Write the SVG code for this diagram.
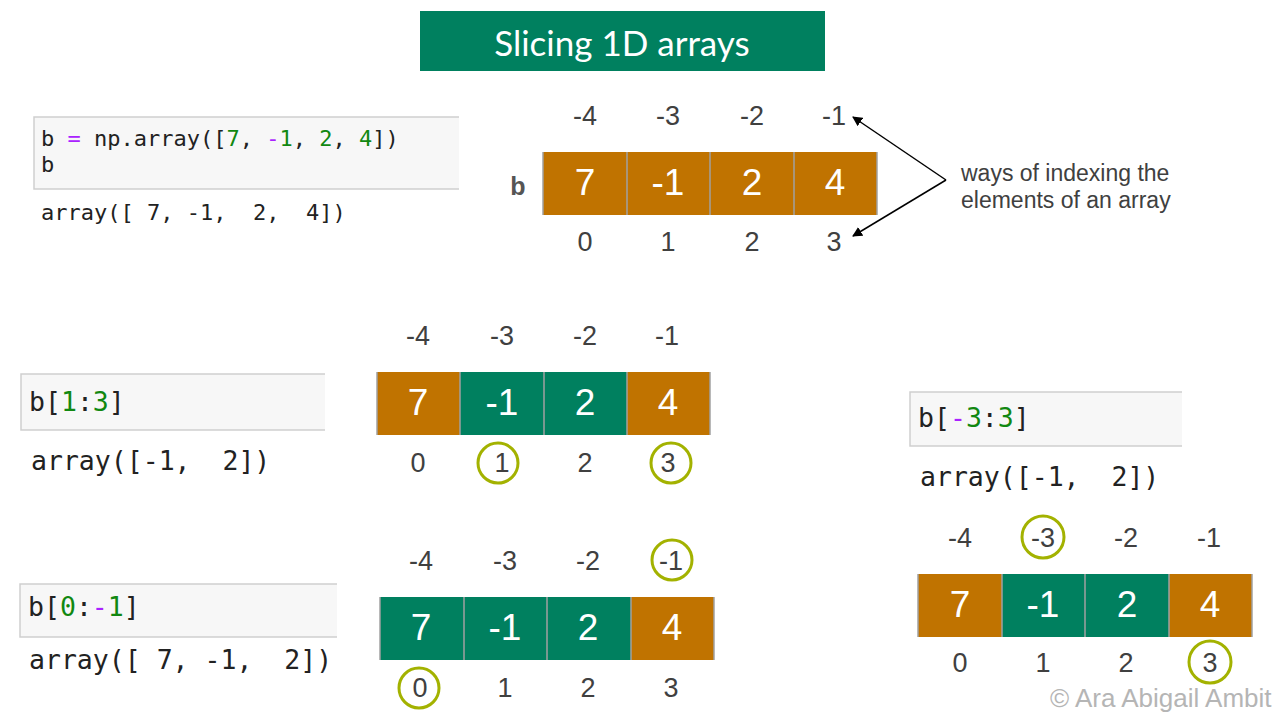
<svg xmlns="http://www.w3.org/2000/svg" width="1279" height="713" viewBox="0 0 1279 713">
<defs>
<marker id="ah" viewBox="0 0 10 10" refX="9" refY="5" markerWidth="10" markerHeight="10" markerUnits="userSpaceOnUse" orient="auto">
<path d="M0,0 L10,5 L0,10 z" fill="#000"/>
</marker>
</defs>
<style>
.bg{fill:#ffffff}
.or{fill:#c07300}
.gr{fill:#00805f}
.div{stroke:#a0a0a0;stroke-width:1.5}
.val{font-family:"Liberation Sans",Arial,sans-serif;font-size:37px;fill:#ffffff;text-anchor:middle}
.idx{font-family:"Liberation Sans",Arial,sans-serif;font-size:27px;fill:#404040;text-anchor:middle}
.ring{fill:none;stroke:#a3b200;stroke-width:3}
.cellbox{fill:#f7f7f7;stroke:none}
.cellbrd{fill:none;stroke:#cfcfcf;stroke-width:1.5}
.code{font-family:"DejaVu Sans Mono","Liberation Mono",monospace;fill:#222}
.num{fill:#118811}
.op{fill:#aa22ff}
.note{font-family:"Liberation Sans",Arial,sans-serif;font-size:23px;fill:#404040}
</style>
<rect class="bg" x="0" y="0" width="1279" height="713"/>

<g id="title">
<rect x="420" y="11" width="405" height="60" fill="#00805f"/>
<text x="622" y="56" font-family="Lato,'Open Sans','Liberation Sans',sans-serif" font-size="35" fill="#ffffff" text-anchor="middle">Slicing 1D arrays</text>
</g>

<g id="code-top">
<rect class="cellbox" x="34" y="117" width="425" height="72"/>
<path class="cellbrd" d="M459,117 H34 V189 H459"/>
<text class="code" x="41" y="146" font-size="22">b <tspan class="op">=</tspan> np.array([<tspan class="num">7</tspan>, <tspan class="op">-</tspan><tspan class="num">1</tspan>, <tspan class="num">2</tspan>, <tspan class="num">4</tspan>])</text>
<text class="code" x="41" y="172" font-size="22">b</text>
<text class="code" x="41" y="220" font-size="22" xml:space="preserve">array([ 7, -1,  2,  4])</text>
</g>

<g id="array-top">
<text x="518" y="195" font-family="'Liberation Sans',Arial,sans-serif" font-size="25" font-weight="bold" fill="#555" text-anchor="middle">b</text>
<rect class="or" x="543" y="152" width="334" height="63"/>
<line class="div" x1="543" y1="152" x2="543" y2="215"/>
<line class="div" x1="627" y1="152" x2="627" y2="215"/>
<line class="div" x1="710" y1="152" x2="710" y2="215"/>
<line class="div" x1="794" y1="152" x2="794" y2="215"/>
<line class="div" x1="877" y1="152" x2="877" y2="215"/>
<text class="val" x="585" y="195">7</text>
<text class="val" x="668" y="195">-1</text>
<text class="val" x="752" y="195">2</text>
<text class="val" x="835" y="195">4</text>
<text class="idx" x="585" y="125">-4</text>
<text class="idx" x="668" y="125">-3</text>
<text class="idx" x="752" y="125">-2</text>
<text class="idx" x="834" y="125">-1</text>
<text class="idx" x="585" y="251">0</text>
<text class="idx" x="668" y="251">1</text>
<text class="idx" x="752" y="251">2</text>
<text class="idx" x="834" y="251">3</text>
</g>

<g id="note">
<text class="note" x="961" y="181">ways of indexing the</text>
<text class="note" x="961" y="208">elements of an array</text>
</g>

<g id="connectors">
<line x1="946" y1="180" x2="853" y2="117" stroke="#000" stroke-width="1.5" marker-end="url(#ah)"/>
<line x1="946" y1="180" x2="853" y2="236" stroke="#000" stroke-width="1.5" marker-end="url(#ah)"/>
</g>

<g id="code-mid">
<rect class="cellbox" x="21" y="374" width="304" height="56"/>
<path class="cellbrd" d="M325,374 H21 V430 H325"/>
<text class="code" x="29" y="411" font-size="26.5">b[<tspan class="num">1</tspan>:<tspan class="num">3</tspan>]</text>
<text class="code" x="31" y="470" font-size="26.5" xml:space="preserve">array([-1,  2])</text>
</g>

<g id="array-mid">
<rect class="or" x="377" y="372" width="83" height="63"/>
<rect class="gr" x="460" y="372" width="84" height="63"/>
<rect class="gr" x="544" y="372" width="83" height="63"/>
<rect class="or" x="627" y="372" width="83" height="63"/>
<line class="div" x1="377" y1="372" x2="377" y2="435"/>
<line class="div" x1="460" y1="372" x2="460" y2="435"/>
<line class="div" x1="544" y1="372" x2="544" y2="435"/>
<line class="div" x1="627" y1="372" x2="627" y2="435"/>
<line class="div" x1="710" y1="372" x2="710" y2="435"/>
<text class="val" x="418" y="415">7</text>
<text class="val" x="502" y="415">-1</text>
<text class="val" x="585" y="415">2</text>
<text class="val" x="668" y="415">4</text>
<text class="idx" x="418" y="345">-4</text>
<text class="idx" x="502" y="345">-3</text>
<text class="idx" x="585" y="345">-2</text>
<text class="idx" x="667" y="345">-1</text>
<text class="idx" x="418" y="472">0</text>
<text class="idx" x="502" y="472">1</text>
<text class="idx" x="585" y="472">2</text>
<text class="idx" x="668" y="472">3</text>
<circle class="ring" cx="498" cy="463" r="20"/>
<circle class="ring" cx="671" cy="463" r="20"/>
</g>

<g id="code-bot">
<rect class="cellbox" x="20" y="584" width="317" height="53"/>
<path class="cellbrd" d="M337,584 H20 V637 H337"/>
<text class="code" x="28" y="616" font-size="26.5">b[<tspan class="num">0</tspan>:<tspan class="op">-</tspan><tspan class="num">1</tspan>]</text>
<text class="code" x="29" y="669" font-size="26.5" xml:space="preserve">array([ 7, -1,  2])</text>
</g>

<g id="array-bot">
<rect class="gr" x="380" y="597" width="251" height="63"/>
<rect class="or" x="631" y="597" width="83" height="63"/>
<line class="div" x1="380" y1="597" x2="380" y2="660"/>
<line class="div" x1="464" y1="597" x2="464" y2="660"/>
<line class="div" x1="547" y1="597" x2="547" y2="660"/>
<line class="div" x1="631" y1="597" x2="631" y2="660"/>
<line class="div" x1="714" y1="597" x2="714" y2="660"/>
<text class="val" x="421" y="640">7</text>
<text class="val" x="505" y="640">-1</text>
<text class="val" x="588" y="640">2</text>
<text class="val" x="672" y="640">4</text>
<text class="idx" x="421" y="570">-4</text>
<text class="idx" x="505" y="570">-3</text>
<text class="idx" x="588" y="570">-2</text>
<text class="idx" x="671" y="570">-1</text>
<text class="idx" x="420" y="697">0</text>
<text class="idx" x="505" y="697">1</text>
<text class="idx" x="588" y="697">2</text>
<text class="idx" x="671" y="697">3</text>
<circle class="ring" cx="672" cy="560" r="20"/>
<circle class="ring" cx="419" cy="688" r="20"/>
</g>

<g id="code-right">
<rect class="cellbox" x="910" y="392" width="272" height="54"/>
<path class="cellbrd" d="M1182,392 H910 V446 H1182"/>
<text class="code" x="918" y="427" font-size="26.5">b[<tspan class="op">-</tspan><tspan class="num">3</tspan>:<tspan class="num">3</tspan>]</text>
<text class="code" x="920" y="486" font-size="26.5" xml:space="preserve">array([-1,  2])</text>
</g>

<g id="array-right">
<rect class="or" x="918" y="574" width="84" height="63"/>
<rect class="gr" x="1002" y="574" width="167" height="63"/>
<rect class="or" x="1169" y="574" width="83" height="63"/>
<line class="div" x1="918" y1="574" x2="918" y2="637"/>
<line class="div" x1="1002" y1="574" x2="1002" y2="637"/>
<line class="div" x1="1085" y1="574" x2="1085" y2="637"/>
<line class="div" x1="1169" y1="574" x2="1169" y2="637"/>
<line class="div" x1="1252" y1="574" x2="1252" y2="637"/>
<text class="val" x="960" y="617">7</text>
<text class="val" x="1043" y="617">-1</text>
<text class="val" x="1127" y="617">2</text>
<text class="val" x="1210" y="617">4</text>
<text class="idx" x="960" y="547">-4</text>
<text class="idx" x="1043" y="547">-3</text>
<text class="idx" x="1126" y="547">-2</text>
<text class="idx" x="1209" y="547">-1</text>
<text class="idx" x="960" y="672">0</text>
<text class="idx" x="1043" y="672">1</text>
<text class="idx" x="1126" y="672">2</text>
<text class="idx" x="1210" y="672">3</text>
<circle class="ring" cx="1043" cy="537" r="21"/>
<circle class="ring" cx="1210" cy="662" r="21"/>
</g>

<g id="credit">
<text x="1050" y="707" font-family="'Liberation Sans',Arial,sans-serif" font-size="26" fill="#b5b5b5">© Ara Abigail Ambit</text>
</g>
</svg>
